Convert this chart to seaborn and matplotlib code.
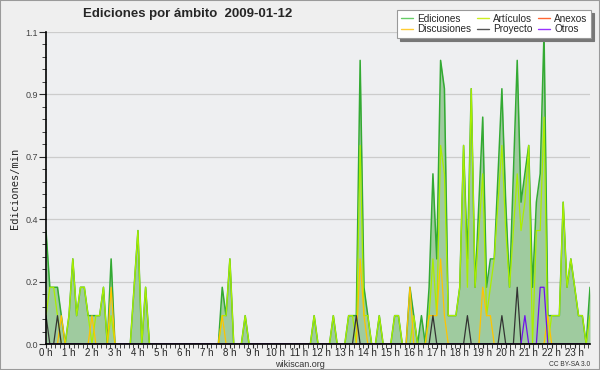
import numpy as np
import pandas as pd
import matplotlib
matplotlib.use("Agg")
import matplotlib.pyplot as plt
from matplotlib.ticker import MultipleLocator, FormatStrFormatter
from matplotlib.lines import Line2D
from matplotlib.patches import Rectangle
import seaborn as sns

# edits per 10-minute bin, 2009-01-12 (12 bins = 2 hours per row)
ediciones = [4, 2, 2, 2, 1, 0, 1, 3, 1, 2, 2, 1,
             1, 1, 1, 2, 0, 3, 0, 0, 0, 0, 0, 2,
             4, 0, 2, 0, 0, 0, 0, 0, 0, 0, 0, 0,
             0, 0, 0, 0, 0, 0, 0, 0, 0, 0, 2, 1,
             3, 0, 0, 0, 1, 0, 0, 0, 0, 0, 0, 0,
             0, 0, 0, 0, 0, 0, 0, 0, 0, 0, 1, 0,
             0, 0, 0, 1, 0, 0, 0, 1, 1, 1, 10, 2,
             1, 0, 0, 1, 0, 0, 0, 1, 1, 0, 0, 2,
             1, 0, 1, 0, 2, 6, 3, 10, 9, 1, 1, 1,
             2, 7, 3, 9, 2, 5, 8, 2, 3, 3, 6, 9,
             5, 2, 6, 10, 5, 6, 7, 2, 5, 6, 11, 1,
             1, 1, 1, 5, 2, 3, 2, 1, 1, 0, 2]
articulos = [1, 2, 2, 1, 0, 0, 1, 3, 1, 2, 2, 1,
             0, 1, 1, 2, 0, 1, 0, 0, 0, 0, 0, 2,
             4, 0, 2, 0, 0, 0, 0, 0, 0, 0, 0, 0,
             0, 0, 0, 0, 0, 0, 0, 0, 0, 0, 1, 1,
             3, 0, 0, 0, 1, 0, 0, 0, 0, 0, 0, 0,
             0, 0, 0, 0, 0, 0, 0, 0, 0, 0, 1, 0,
             0, 0, 0, 1, 0, 0, 0, 1, 1, 0, 7, 1,
             1, 0, 0, 1, 0, 0, 0, 1, 1, 0, 0, 0,
             1, 0, 0, 0, 1, 3, 1, 7, 6, 1, 1, 1,
             2, 7, 2, 9, 2, 4, 6, 1, 2, 3, 5, 7,
             4, 2, 4, 6, 4, 5, 7, 0, 4, 4, 8, 0,
             1, 1, 1, 5, 2, 3, 2, 1, 1, 0, 1]
discusiones = [0, 0, 0, 0, 1, 0, 0, 0, 0, 0, 0, 0,
               1, 0, 0, 0, 0, 2, 0, 0, 0, 0, 0, 0,
               0, 0, 0, 0, 0, 0, 0, 0, 0, 0, 0, 0,
               0, 0, 0, 0, 0, 0, 0, 0, 0, 0, 1, 0,
               0, 0, 0, 0, 0, 0, 0, 0, 0, 0, 0, 0,
               0, 0, 0, 0, 0, 0, 0, 0, 0, 0, 0, 0,
               0, 0, 0, 0, 0, 0, 0, 0, 0, 0, 3, 1,
               0, 0, 0, 0, 0, 0, 0, 0, 0, 0, 0, 2,
               0, 0, 0, 0, 1, 1, 1, 3, 1, 0, 0, 0,
               0, 0, 0, 0, 0, 0, 2, 1, 1, 0, 0, 0,
               0, 0, 0, 0, 0, 0, 0, 0, 0, 0, 0, 1,
               0, 0, 0, 0, 0, 0, 0, 0, 0, 0, 0]
proyecto = [1, 0, 0, 1, 0, 0, 0, 0, 0, 0, 0, 0,
            0, 0, 0, 0, 0, 0, 0, 0, 0, 0, 0, 0,
            0, 0, 0, 0, 0, 0, 0, 0, 0, 0, 0, 0,
            0, 0, 0, 0, 0, 0, 0, 0, 0, 0, 0, 0,
            0, 0, 0, 0, 0, 0, 0, 0, 0, 0, 0, 0,
            0, 0, 0, 0, 0, 0, 0, 0, 0, 0, 0, 0,
            0, 0, 0, 0, 0, 0, 0, 0, 0, 1, 0, 0,
            0, 0, 0, 0, 0, 0, 0, 0, 0, 0, 0, 0,
            0, 0, 0, 0, 0, 1, 0, 0, 0, 0, 0, 0,
            0, 0, 1, 0, 0, 0, 0, 0, 0, 0, 0, 1,
            0, 0, 0, 2, 0, 0, 0, 0, 0, 0, 0, 0,
            0, 0, 0, 0, 0, 0, 0, 0, 0, 0, 0]
otros = [0, 0, 0, 0, 0, 0, 0, 0, 0, 0, 0, 0,
         0, 0, 0, 0, 0, 0, 0, 0, 0, 0, 0, 0,
         0, 0, 0, 0, 0, 0, 0, 0, 0, 0, 0, 0,
         0, 0, 0, 0, 0, 0, 0, 0, 0, 0, 0, 0,
         0, 0, 0, 0, 0, 0, 0, 0, 0, 0, 0, 0,
         0, 0, 0, 0, 0, 0, 0, 0, 0, 0, 0, 0,
         0, 0, 0, 0, 0, 0, 0, 0, 0, 0, 0, 0,
         0, 0, 0, 0, 0, 0, 0, 0, 0, 0, 0, 0,
         0, 0, 0, 0, 0, 0, 0, 0, 0, 0, 0, 0,
         0, 0, 0, 0, 0, 0, 0, 0, 0, 0, 0, 0,
         0, 0, 0, 0, 0, 1, 0, 0, 0, 2, 2, 0,
         0, 0, 0, 0, 0, 0, 0, 0, 0, 0, 0]
anexos = [0] * len(ediciones)

hour_labels = [f"{h} h" for h in range(24)]
y_ticks = [0.0, 0.22, 0.44, 0.66, 0.88, 1.1]

# 10 min bins -> hours, counts -> edits per minute
df = pd.DataFrame({
    "hora": np.arange(len(ediciones)) / 6,
    "Ediciones": np.array(ediciones) / 10,
    "Artículos": np.array(articulos) / 10,
    "Discusiones": np.array(discusiones) / 10,
    "Anexos": np.array(anexos) / 10,
    "Proyecto": np.array(proyecto) / 10,
    "Otros": np.array(otros) / 10,
})

sns.set_style("ticks")
plt.rcParams["font.family"] = ["Liberation Sans", "DejaVu Sans"]

fig, ax = plt.subplots(figsize=(6, 3.7), dpi=100)
fig.patch.set_facecolor("#efefef")
ax.set_facecolor("#eeeff1")
fig.subplots_adjust(left=46/600, right=590/600, bottom=1-344/370, top=1-32/370)

ax.fill_between(df["hora"], df["Ediciones"], color="#9fcb9f", lw=0, zorder=1)
line_colors = {"Ediciones": "#33aa33", "Artículos": "#aaee00", "Discusiones": "#ffc400",
               "Anexos": "#ff6633", "Proyecto": "#333333", "Otros": "#7010ee"}
for col in ["Ediciones", "Artículos", "Discusiones", "Anexos", "Proyecto", "Otros"]:
    sns.lineplot(data=df, x="hora", y=col, ax=ax, color=line_colors[col],
                 lw=1.1 if col == "Ediciones" else 0.9, legend=False, zorder=2)

ax.set_xlim(0, df["hora"].iloc[-1])
ax.set_ylim(0, 1.1)
ax.set_xticks(range(24))
ax.set_xticklabels(hour_labels)
ax.xaxis.set_minor_locator(MultipleLocator(0.2))
ax.set_yticks(y_ticks)
ax.yaxis.set_major_formatter(FormatStrFormatter("%.1f"))
ax.yaxis.set_minor_locator(MultipleLocator(0.044))
ax.tick_params(axis="y", which="major", length=5, labelsize=6.5, labelcolor="#444444", pad=1)
ax.tick_params(axis="y", which="minor", length=3)
ax.tick_params(axis="x", which="both", length=3, labelsize=7, pad=0)
ax.yaxis.grid(True, color="#cccccc", lw=0.9)
ax.set_axisbelow(True)
for s in ["top", "right"]:
    ax.spines[s].set_visible(False)
for s in ["left", "bottom"]:
    ax.spines[s].set_color("black")
    ax.spines[s].set_linewidth(1.2)

ax.set_xlabel("")
ax.set_ylabel("Ediciones/min", fontsize=7.5, family="DejaVu Sans Mono", labelpad=4)

fig.text(0.313, 0.962, "Ediciones por ámbito  2009-01-12", ha="center", va="center",
         fontsize=9.5, fontweight="bold")
fig.text(0.5, 0.016, "wikiscan.org", ha="center", va="center", fontsize=6.5, color="#333333")
fig.text(0.983, 0.014, "CC BY-SA 3.0", ha="right", va="center", fontsize=4.8, color="#333333")

legend_colors = {"Ediciones": "#66cc66", "Discusiones": "#ffcc33", "Artículos": "#ccee22",
                 "Proyecto": "#555555", "Anexos": "#ff6633", "Otros": "#9933ff"}
handles = [Line2D([], [], color=c, lw=1) for c in legend_colors.values()]
leg = fig.legend(handles, list(legend_colors.keys()), ncol=3, loc="upper right",
                 bbox_to_anchor=(591/600, 1-10/370), borderaxespad=0,
                 frameon=True, fancybox=False,
                 shadow={"color": "#777777", "alpha": 1}, fontsize=7.2,
                 handlelength=1.2, columnspacing=0.6, handletextpad=0.4,
                 labelspacing=0.1, borderpad=0.35, edgecolor="#999999")
leg.get_frame().set_linewidth(0.8)

fig.add_artist(Rectangle((0, 0), 1, 1, transform=fig.transFigure, fill=False,
                         ec="#9a9a9a", lw=1.5))

fig.savefig("out.png", dpi=100, facecolor=fig.get_facecolor())
